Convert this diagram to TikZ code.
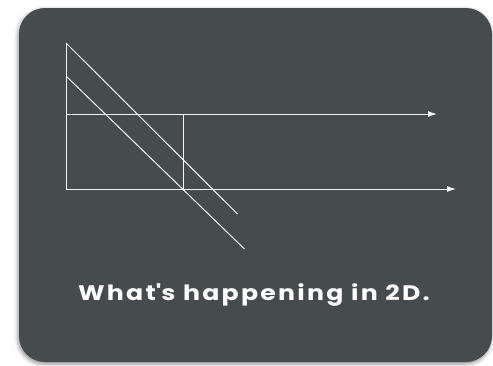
\documentclass[tikz,border=0pt]{standalone}
\usepackage{fontspec}
\setmainfont{Fira Sans}
\newfontfamily\capfont[Ligatures=NoCommon, LetterSpace=9]{Poppins}
\usetikzlibrary{arrows.meta,shadows.blur}
\definecolor{board}{HTML}{464C4E}
\definecolor{chalk}{HTML}{F4F4F4}
\tikzset{
  panel/.style ={fill=board, rounded corners=26pt,
                 blur shadow={shadow xshift=-1pt, shadow yshift=-2pt,
                              shadow blur radius=4pt, shadow opacity=45}},
  chalkline/.style={draw=chalk, line width=1pt},
  axisline/.style={chalkline, -{Latex[length=9pt,width=6pt]}},
  caption/.style={text=white, font=\capfont\fontsize{21}{25}\selectfont\bfseries},
}
\begin{document}
\begin{tikzpicture}[x=1pt,y=-1pt]
  \useasboundingbox (0,0) rectangle (493,365);
  \path[panel] (19,8) rectangle (492,362);
  % axes and guide lines
  \coordinate (top) at (66,43);
  \coordinate (mid) at (66,114);
  \coordinate (orig) at (66,189);
  \coordinate (midend) at (437,114);
  \coordinate (origend) at (456,189);
  \coordinate (cut) at (183,114);
  \coordinate (cutfoot) at (183,189);
  \coordinate (lineA) at (66,76);
  \coordinate (endA) at (237.5,214);
  \coordinate (endB) at (244.5,249);
  \draw[chalkline] (top) -- (orig);
  \draw[axisline] (mid) -- (midend);
  \draw[axisline] (orig) -- (origend);
  \draw[chalkline] (cut) -- (cutfoot);
  \draw[chalkline] (top) -- (endA);
  \draw[chalkline] (lineA) -- (endB);
  \node[caption, anchor=base, xscale=1.2] (cap) at (254,300) {What\textquotesingle s happening in 2D.};
\end{tikzpicture}
\end{document}
